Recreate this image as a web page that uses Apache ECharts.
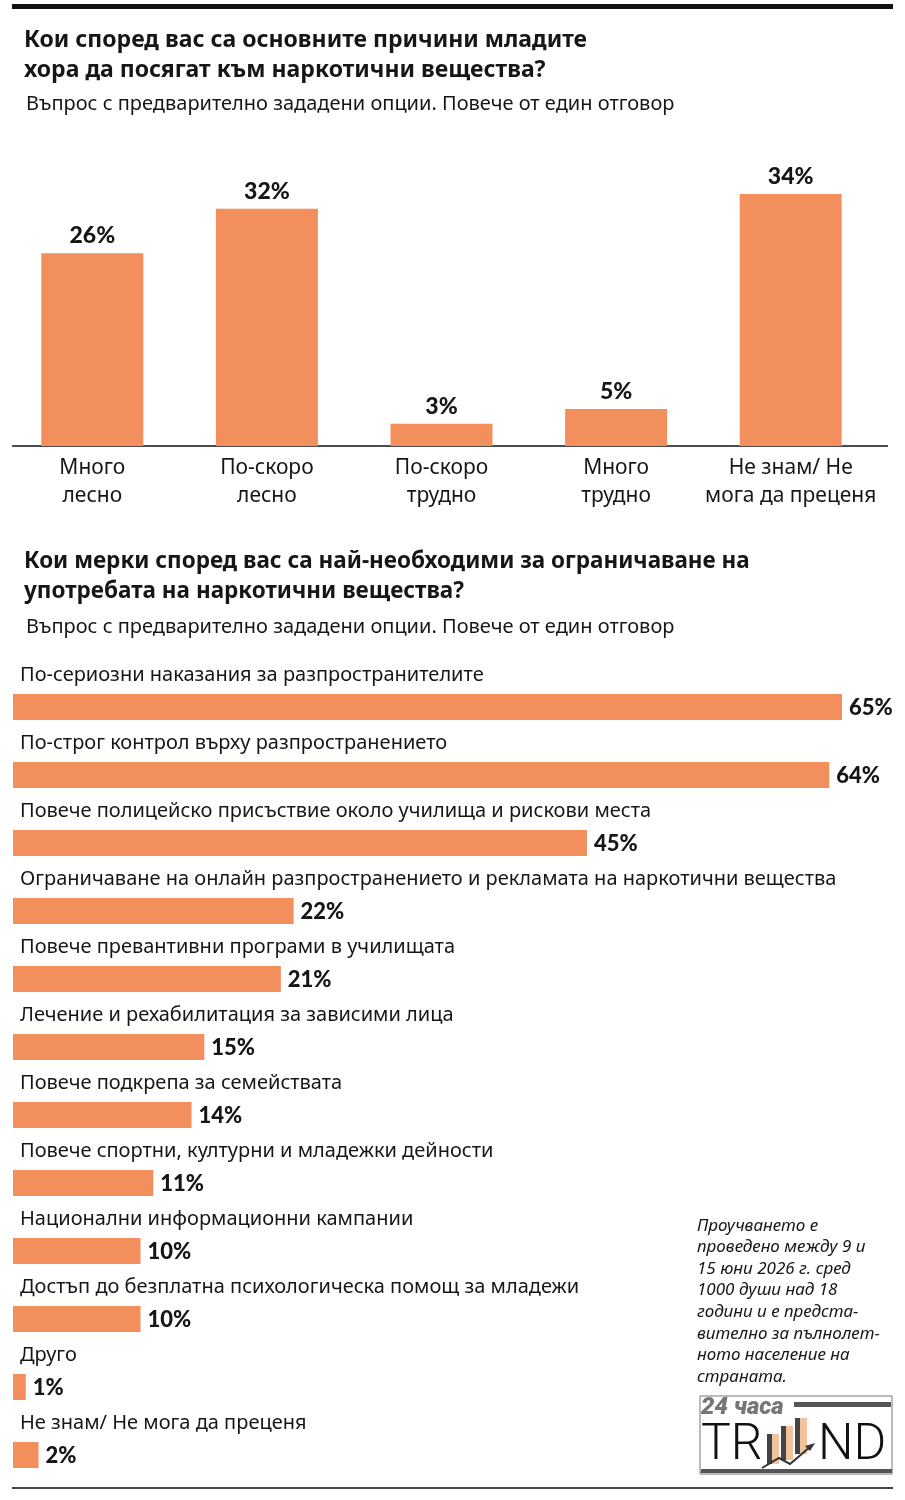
<!DOCTYPE html>
<html>
<head>
<meta charset="utf-8">
<script src="https://cdn.jsdelivr.net/npm/echarts@6/dist/echarts.min.js"></script>
<style>
  html, body { margin: 0; padding: 0; background: #fff; }
  #main { width: 905px; height: 1500px; }
</style>
</head>
<body>
<div id="main"></div>
<script>
// top chart: ease of access
var easeCategories = ['Много\nлесно', 'По-скоро\nлесно', 'По-скоро\nтрудно', 'Много\nтрудно', 'Не знам/ Не\nмога да преценя'];
var easeValues = [26, 32, 3, 5, 34];

// bottom chart: measures
var measureCategories = [
    'По-сериозни наказания за разпространителите',
    'По-строг контрол върху разпространението',
    'Повече полицейско присъствие около училища и рискови места',
    'Ограничаване на онлайн разпространението и рекламата на наркотични вещества',
    'Повече превантивни програми в училищата',
    'Лечение и рехабилитация за зависими лица',
    'Повече подкрепа за семействата',
    'Повече спортни, културни и младежки дейности',
    'Национални информационни кампании',
    'Достъп до безплатна психологическа помощ за младежи',
    'Друго',
    'Не знам/ Не мога да преценя'
];
var measureValues = [65, 64, 45, 22, 21, 15, 14, 11, 10, 10, 1, 2];

var footnoteLines = [
    'Проучването е',
    'проведено между 9 и',
    '15 юни 2026 г. сред',
    '1000 души над 18',
    'години и е предста-',
    'вително за пълнолет-',
    'ното население на',
    'страната.'
];

var orange = '#F38F5C';
var ink = '#161616';
var txtFont = '"Noto Sans"';

var chartDom = document.getElementById('main');
var myChart = echarts.init(chartDom);
var option;

option = {
    animation: false,
    backgroundColor: '#fff',
    title: [
        {
            text: 'Кои според вас са основните причини младите\nхора да посягат към наркотични вещества?',
            left: 19, top: 20,
            textStyle: { fontFamily: txtFont, fontWeight: 'bold', fontSize: 23, lineHeight: 30, color: ink }
        },
        {
            text: 'Въпрос с предварително зададени опции. Повече от един отговор',
            left: 21, top: 89,
            textStyle: { fontFamily: txtFont, fontWeight: 'normal', fontSize: 20, color: ink }
        },
        {
            text: 'Кои мерки според вас са най-необходими за ограничаване на\nупотребата на наркотични вещества?',
            left: 19, top: 542,
            textStyle: { fontFamily: txtFont, fontWeight: 'bold', fontSize: 22.5, lineHeight: 30, color: ink }
        },
        {
            text: 'Въпрос с предварително зададени опции. Повече от един отговор',
            left: 21, top: 612,
            textStyle: { fontFamily: txtFont, fontWeight: 'normal', fontSize: 20, color: ink }
        }
    ],
    grid: [
        { left: 5, width: 873, top: 194, height: 252, outerBoundsMode: 'none' },
        { left: 13, width: 829, top: 673, height: 816, outerBoundsMode: 'none' }
    ],
    xAxis: [
        {
            gridIndex: 0,
            type: 'category',
            data: easeCategories,
            axisLine: { show: false },
            axisTick: { show: false },
            axisLabel: {
                fontFamily: txtFont, fontSize: 21, lineHeight: 28, color: ink,
                margin: 8, interval: 0
            }
        },
        {
            gridIndex: 1,
            type: 'value',
            min: 0, max: 65,
            show: false
        }
    ],
    yAxis: [
        {
            gridIndex: 0,
            type: 'value',
            min: 0, max: 34,
            show: false
        },
        {
            gridIndex: 1,
            type: 'category',
            inverse: true,
            data: measureCategories,
            axisLine: { show: false },
            axisTick: { show: false },
            axisLabel: {
                inside: true,
                margin: 7,
                interval: 0,
                fontFamily: txtFont, fontSize: 20, color: ink,
                verticalAlign: 'middle',
                lineHeight: 64,
                // empty second line lifts the name above its bar
                formatter: function (v) { return v + '\n '; }
            },
            z: 10
        }
    ],
    series: [
        {
            type: 'bar',
            xAxisIndex: 0, yAxisIndex: 0,
            data: easeValues,
            barWidth: 102,
            itemStyle: { color: orange },
            label: {
                show: true, position: 'top', distance: 6,
                formatter: '{c}%',
                fontFamily: 'Lato', fontWeight: 900, fontSize: 23, color: ink
            }
        },
        {
            type: 'bar',
            xAxisIndex: 1, yAxisIndex: 1,
            data: measureValues,
            barWidth: 26,
            itemStyle: { color: orange },
            label: {
                show: true, position: 'right', distance: 7, offset: [0, 1],
                formatter: '{c}%',
                fontFamily: 'Lato', fontWeight: 900, fontSize: 22, color: ink
            }
        }
    ],
    graphic: [
        // top rule
        { type: 'rect', shape: { x: 12, y: 4, width: 881, height: 5 }, style: { fill: '#111' } },
        // baseline of the column chart (wider than its grid)
        { type: 'line', shape: { x1: 12, y1: 446, x2: 888, y2: 446 }, style: { stroke: '#111', lineWidth: 1.5 } },
        // bottom rule
        { type: 'rect', shape: { x: 12, y: 1487, width: 881, height: 2 }, style: { fill: '#444' } },
        // footnote
        {
            type: 'text', left: 697, top: 1215,
            style: {
                text: footnoteLines.join('\n'),
                font: 'italic 17px "Noto Sans"',
                lineHeight: 21.6,
                fill: ink
            }
        },
        // logo
        {
            type: 'group',
            children: [
                { type: 'rect', shape: { x: 700, y: 1396, width: 192, height: 78 }, style: { fill: '#fff', stroke: '#777', lineWidth: 1 } },
                { type: 'rect', shape: { x: 794, y: 1402, width: 97, height: 5 }, style: { fill: '#555' } },
                { type: 'rect', shape: { x: 701, y: 1469, width: 191, height: 4 }, style: { fill: '#555' } },
                { type: 'text', style: { x: 701, y: 1396, text: '24 часа', font: 'italic 900 24px Roboto', fill: '#777' } },
                { type: 'text', style: { x: 701, y: 1421, text: 'TR', font: '300 50px Roboto', fill: '#111' } },
                { type: 'text', style: { x: 818, y: 1421, text: 'ND', font: '300 50px Roboto', fill: '#111' } },
                { type: 'rect', shape: { x: 767, y: 1434, width: 5, height: 30 }, style: { fill: '#444' } },
                { type: 'rect', shape: { x: 772, y: 1434, width: 7, height: 30 }, style: { fill: '#F2C29A' } },
                { type: 'rect', shape: { x: 781, y: 1426, width: 5, height: 34 }, style: { fill: '#444' } },
                { type: 'rect', shape: { x: 786, y: 1426, width: 7, height: 34 }, style: { fill: '#F2C29A' } },
                { type: 'rect', shape: { x: 795, y: 1418, width: 5, height: 36 }, style: { fill: '#444' } },
                { type: 'rect', shape: { x: 800, y: 1418, width: 7, height: 36 }, style: { fill: '#F2C29A' } },
                { type: 'polyline', shape: { points: [[762, 1468], [779, 1458], [790, 1464], [810, 1447]] }, style: { stroke: '#333', lineWidth: 2, fill: null } },
                { type: 'polygon', shape: { points: [[815, 1443], [805, 1446], [810, 1451]] }, style: { fill: '#333' } }
            ]
        }
    ]
};

option && myChart.setOption(option);
window.addEventListener("resize",function(){
    myChart.resize();
});
</script>
</body>
</html>
